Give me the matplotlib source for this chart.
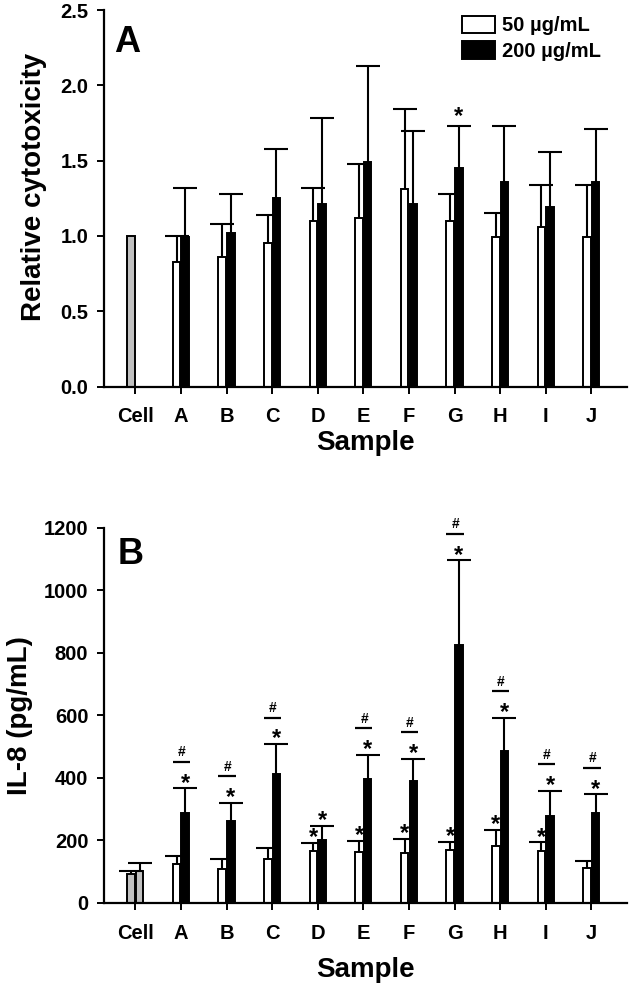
import numpy as np
import matplotlib
matplotlib.use("Agg")
import matplotlib.pyplot as plt
from matplotlib.transforms import offset_copy
from matplotlib.patches import Patch

plt.rcParams['font.family'] = ['Liberation Sans', 'DejaVu Sans']
plt.rcParams['font.weight'] = 'bold'

# ---------------- data ----------------
categories = ['Cell', 'A', 'B', 'C', 'D', 'E', 'F', 'G', 'H', 'I', 'J']
series_labels = ['50 \u00b5g/mL', '200 \u00b5g/mL']

# Panel A: relative cytotoxicity (Cell control = 1.0, single grey bar)
cyto_cell = 1.00
cyto_50 = [0.83, 0.86, 0.95, 1.10, 1.12, 1.31, 1.10, 0.99, 1.06, 0.99]
cyto_50_err = [0.17, 0.22, 0.19, 0.22, 0.36, 0.53, 0.18, 0.16, 0.28, 0.35]
cyto_200 = [0.99, 1.02, 1.25, 1.21, 1.49, 1.21, 1.45, 1.36, 1.19, 1.36]
cyto_200_err = [0.33, 0.26, 0.33, 0.57, 0.64, 0.49, 0.28, 0.37, 0.37, 0.35]
cyto_star_200 = ['G']

# Panel B: IL-8 (pg/mL); Cell control has two grey bars
il8_cell = [92, 102]
il8_cell_err = [9, 26]
il8_50 = [124, 108, 140, 167, 161, 158, 170, 180, 165, 112]
il8_50_err = [27, 31, 36, 25, 37, 46, 25, 54, 28, 21]
il8_200 = [286, 260, 411, 200, 397, 391, 825, 486, 277, 286]
il8_200_err = [80, 60, 97, 46, 76, 70, 271, 106, 81, 61]
il8_star_50 = ['D', 'E', 'F', 'G', 'H', 'I']
il8_star_200 = ['A', 'B', 'C', 'D', 'E', 'F', 'G', 'H', 'I', 'J']
il8_hash = ['A', 'B', 'C', 'E', 'F', 'G', 'H', 'I', 'J']

# ---------------- style ----------------
W, H, DPI = 629, 989, 100
fig = plt.figure(figsize=(W / DPI, H / DPI), dpi=DPI)

x = np.arange(len(categories))
xs = x[1:]
off = 0.095
bw = 0.165
grey = '#c0c0c0'
edge_lw = 1.4
ekw = dict(ecolor='black', elinewidth=1.5, capsize=8.5, capthick=1.5)
tick_fs = 14.5
label_fs = 20
star_fs = 17
hash_fs = 10

left = 103.6 / W
width = (626.5 - 103.6) / W
axA = fig.add_axes([left, 1 - 386.6 / H, width, (386.6 - 10) / H])
axB = fig.add_axes([left, 1 - 902.7 / H, width, (902.7 - 527.7) / H])

for ax in (axA, axB):
    ax.spines['top'].set_visible(False)
    ax.spines['right'].set_visible(False)
    for s in ('left', 'bottom'):
        ax.spines[s].set_linewidth(1.6)
    ax.tick_params(axis='both', direction='out', length=5, width=1.4,
                   labelsize=tick_fs)
    ax.tick_params(axis='y', pad=6)
    ax.tick_params(axis='x', pad=10)
    ax.set_xlim(-0.695, 10.77)
    ax.set_xticks(x)
    ax.set_xticklabels(categories, fontweight='bold')
    ax.set_xlabel('Sample', fontsize=label_fs, fontweight='bold')


def up(err):
    err = np.asarray(err, dtype=float)
    return [np.zeros_like(err), err]


def upper_only(container, heights):
    """Hide the cap that sits on the bar top (one-sided error bars)."""
    eb = container.errorbar
    if eb is None:
        return
    caps = eb.lines[1]
    h = np.asarray(heights, dtype=float)
    for cap in caps:
        yd = np.asarray(cap.get_ydata(), dtype=float)
        if yd.shape == h.shape and np.allclose(yd, h):
            cap.set_visible(False)


def bars(ax, xpos, h, err, color):
    bc = ax.bar(xpos, h, bw, yerr=up(err), color=color, edgecolor='black',
                linewidth=edge_lw, error_kw=ekw)
    upper_only(bc, h)
    return bc


# ---------- Panel A ----------
axA.bar(x[0] - off, cyto_cell, bw, color=grey, edgecolor='black',
        linewidth=edge_lw)
bars(axA, xs - off, cyto_50, cyto_50_err, 'white')
bars(axA, xs + off, cyto_200, cyto_200_err, 'black')
axA.set_ylim(0, 2.5)
yt = np.arange(0, 2.51, 0.5)
axA.set_yticks(yt)
axA.set_yticklabels([f'{v:.1f}' for v in yt], fontweight='bold')
axA.set_ylabel('Relative cytotoxicity', fontsize=label_fs, fontweight='bold')
axA.yaxis.set_label_coords(-0.108, 0.53)
axA.xaxis.set_label_coords(0.5, -0.115)
axA.text(0.02, 0.96, 'A', transform=axA.transAxes, fontsize=26,
         fontweight='bold', va='top', ha='left')

tA = offset_copy(axA.transData, fig=fig, y=2, units='points')
for c in cyto_star_200:
    i = categories.index(c) - 1
    axA.text(xs[i] + off, cyto_200[i] + cyto_200_err[i], '*', transform=tA,
             ha='center', va='baseline', fontsize=star_fs, fontweight='bold')

handles = [Patch(facecolor='white', edgecolor='black', linewidth=1.4),
           Patch(facecolor='black', edgecolor='black', linewidth=1.4)]
axA.legend(handles, series_labels, loc='upper left',
           bbox_to_anchor=(0.686, 0.985), frameon=False,
           prop={'size': 14.5, 'weight': 'bold'},
           handlelength=1.6, handleheight=0.95, handletextpad=0.35,
           labelspacing=0.3, borderpad=0, borderaxespad=0)

# ---------- Panel B ----------
bars(axB, [x[0] - off, x[0] + off], il8_cell, il8_cell_err, grey)
bars(axB, xs - off, il8_50, il8_50_err, 'white')
bars(axB, xs + off, il8_200, il8_200_err, 'black')
axB.set_ylim(0, 1200)
ytb = np.arange(0, 1201, 200)
axB.set_yticks(ytb)
axB.set_yticklabels([str(v) for v in ytb], fontweight='bold')
axB.set_ylabel('IL-8 (pg/mL)', fontsize=label_fs, fontweight='bold')
axB.yaxis.set_label_coords(-0.135, 0.5)
axB.xaxis.set_label_coords(0.5, -0.145)
axB.text(0.026, 0.975, 'B', transform=axB.transAxes, fontsize=26,
         fontweight='bold', va='top', ha='left')

tStar = offset_copy(axB.transData, fig=fig, y=-1, units='points')
for c in il8_star_50:
    i = categories.index(c) - 1
    axB.text(xs[i] - off, il8_50[i] + il8_50_err[i], '*', transform=tStar,
             ha='center', va='baseline', fontsize=star_fs, fontweight='bold')
for c in il8_star_200:
    i = categories.index(c) - 1
    axB.text(xs[i] + off, il8_200[i] + il8_200_err[i], '*', transform=tStar,
             ha='center', va='baseline', fontsize=star_fs, fontweight='bold')

tLine = offset_copy(axB.transData, fig=fig, y=19, units='points')
tHash = offset_copy(axB.transData, fig=fig, y=23, units='points')
for c in il8_hash:
    i = categories.index(c) - 1
    top = il8_200[i] + il8_200_err[i]
    axB.plot([xs[i] - 0.18, xs[i] + 0.2], [top, top], color='black',
             linewidth=1.6, transform=tLine, solid_capstyle='butt')
    axB.text(xs[i] + 0.02, top, '#', transform=tHash, ha='center',
             va='baseline', fontsize=hash_fs, fontweight='bold')

fig.savefig('out.png', dpi=DPI)
